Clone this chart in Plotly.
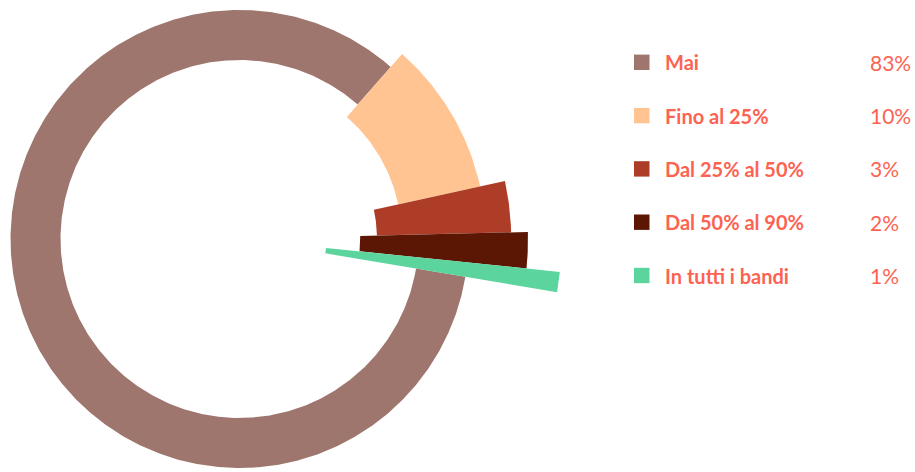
import numpy as np
import plotly.graph_objects as go

# ---- data ----
categories = ["Mai", "Fino al 25%", "Dal 25% al 50%", "Dal 50% al 90%", "In tutti i bandi"]
values = [83, 10, 3, 2, 1]
pct_labels = ["83%", "10%", "3%", "2%", "1%"]
inner_radius = [179, 162.6, 137.5, 120.7, 87]
outer_radius = [229, 246.3, 271.7, 288.5, 322]
colors = ["#9e766d", "#ffc491", "#ae3d27", "#5c1704", "#5bd49d"]

W, H = 915, 472
cx, cy = 239.5, 239.0          # pie centre in pixels (from top-left)
start_angle = 99.5             # degrees clockwise from north where first slice starts
text_color = "#fc6352"
FONT = "Lato"

fig = go.Figure()
total = sum(values)
ang = start_angle
for cat, v, r0, r1, col in zip(categories, values, inner_radius, outer_radius, colors):
    span = 360.0 * v / total
    t = np.radians(np.linspace(ang, ang + span, max(8, int(span * 2))))
    xs = np.concatenate([r1 * np.sin(t), r0 * np.sin(t[::-1])])
    ys = np.concatenate([r1 * np.cos(t), r0 * np.cos(t[::-1])])
    xs = np.append(xs, xs[0])
    ys = np.append(ys, ys[0])
    fig.add_trace(go.Scatter(x=xs, y=ys, mode="lines", fill="toself",
                             fillcolor=col, line=dict(width=0, color=col),
                             name=cat, hoverinfo="name", showlegend=False))
    ang += span

# legend (manual)
row0, row_gap = 62.3, 53.3
for i, (cat, pct, col) in enumerate(zip(categories, pct_labels, colors)):
    yc = row0 + i * row_gap
    fig.add_shape(type="rect", xref="paper", yref="paper",
                  x0=634 / W, x1=649.5 / W, y0=1 - (yc + 7.7) / H, y1=1 - (yc - 7.7) / H,
                  fillcolor=col, line=dict(width=0))
    fig.add_annotation(xref="paper", yref="paper", x=663 / W, y=1 - yc / H,
                       xanchor="left", yanchor="middle", showarrow=False,
                       text="<b>" + cat + "</b>",
                       font=dict(family=FONT, size=20, color=text_color))
    fig.add_annotation(xref="paper", yref="paper", x=868 / W, y=1 - yc / H,
                       xanchor="left", yanchor="middle", showarrow=False,
                       text=pct, font=dict(family=FONT, size=21, color=text_color))

fig.update_layout(
    width=W, height=H,
    margin=dict(l=0, r=0, t=0, b=0),
    paper_bgcolor="white", plot_bgcolor="white",
    xaxis=dict(range=[-cx, W - cx], visible=False, fixedrange=True),
    yaxis=dict(range=[-(H - cy), cy], visible=False, fixedrange=True),
    showlegend=False,
)
fig.write_html("out.html", config={"displayModeBar": False},
               post_script="document.body.style.margin='0';document.body.style.overflow='hidden';")
